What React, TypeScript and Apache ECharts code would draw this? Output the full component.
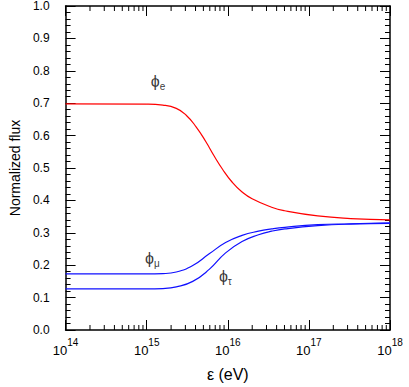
import React, { useEffect, useRef } from "react";
import * as echarts from "echarts";

// log10 of energy (eV) and normalized flux values
const logE_e = [14, 15, 15.2, 15.365, 15.487, 15.609, 15.73, 15.832, 15.933, 16.055, 16.176, 16.3, 16.54, 16.7, 17.109, 17.514, 18];
const phiE = [0.698, 0.697, 0.694, 0.684, 0.663, 0.627, 0.581, 0.537, 0.497, 0.456, 0.426, 0.405, 0.379, 0.368, 0.352, 0.344, 0.340];

const logE_mt = [14, 15, 15.2, 15.365, 15.568, 15.771, 15.973, 16.176, 16.379, 16.541, 16.703, 17.109, 17.514, 18];
const phiMu = [0.173, 0.173, 0.174, 0.179, 0.199, 0.235, 0.270, 0.292, 0.305, 0.312, 0.317, 0.325, 0.328, 0.331];
const phiTau = [0.127, 0.127, 0.128, 0.133, 0.150, 0.187, 0.238, 0.273, 0.294, 0.305, 0.312, 0.322, 0.327, 0.329];

// curve annotations
const labelSub = ["e", "μ", "τ"];
const labelLogE = [15.14, 15.07, 15.97];
const labelY = [0.763, 0.219, 0.162];

// axis ticks
const decades = [14, 15, 16, 17];
const minorMult = [2, 3, 4, 5, 6, 7, 8, 9];

const FONT = "'Liberation Sans', Arial, sans-serif";

export default function App() {
  const ref = useRef<HTMLDivElement>(null);
  useEffect(() => {
    if (!ref.current) return;
    const chart = echarts.init(ref.current, undefined, { renderer: "svg" });
    const toPts = (xs: number[], ys: number[]) => xs.map((x, i) => [Math.pow(10, x), ys[i]]);
    const minorData: number[][] = [];
    decades.forEach((d) => minorMult.forEach((m) => minorData.push([m * Math.pow(10, d), 0])));

    const xBase: any = {
      type: "log",
      logBase: 10,
      min: 1e14,
      max: 1e18,
      axisLine: { show: true, onZero: false, lineStyle: { color: "#000", width: 1.5 } },
      axisTick: { show: true, inside: true, length: 10, lineStyle: { color: "#000", width: 1 } },
      splitLine: { show: false },
      minorTick: { show: false },
    };
    const yBase: any = {
      type: "value",
      min: 0,
      max: 1,
      interval: 0.1,
      axisLine: { show: true, onZero: false, lineStyle: { color: "#000", width: 1.5 } },
      axisTick: { show: true, inside: true, length: 10, lineStyle: { color: "#000", width: 1 } },
      minorTick: { show: true, splitNumber: 5, length: 5, lineStyle: { color: "#000", width: 1 } },
      splitLine: { show: false },
      minorSplitLine: { show: false },
    };

    const lineSeries = (xs: number[], ys: number[], color: string) => ({
      type: "line",
      data: toPts(xs, ys),
      showSymbol: false,
      smooth: 0.5,
      lineStyle: { color, width: 1.2 },
    });

    chart.setOption({
      animation: false,
      backgroundColor: "#fff",
      grid: { left: 61, right: 19, top: 5, bottom: 55 },
      xAxis: [
        {
          ...xBase,
          position: "bottom",
          name: "ε (eV)",
          nameLocation: "middle",
          nameGap: 36,
          nameTextStyle: { fontFamily: FONT, fontSize: 16, color: "#000" },
          axisLabel: {
            show: true,
            margin: 7,
            formatter: (v: number) => "{b|10}{s|" + Math.round(Math.log10(v)) + "}",
            rich: {
              b: { fontFamily: FONT, fontSize: 13, color: "#000", lineHeight: 20, verticalAlign: "bottom" },
              s: { fontFamily: FONT, fontSize: 10, color: "#000", lineHeight: 10, verticalAlign: "top" },
            },
          },
        },
        { ...xBase, position: "top", axisLabel: { show: false } },
      ],
      yAxis: [
        {
          ...yBase,
          position: "left",
          name: "Normalized flux",
          nameLocation: "middle",
          nameGap: 41,
          nameTextStyle: { fontFamily: FONT, fontSize: 14, color: "#000" },
          axisLabel: {
            show: true,
            margin: 16,
            fontFamily: FONT,
            fontSize: 12,
            color: "#000",
            formatter: (v: number) => v.toFixed(1),
          },
        },
        { ...yBase, position: "right", axisLabel: { show: false } },
      ],
      series: [
        lineSeries(logE_e, phiE, "#ff0000"),
        lineSeries(logE_mt, phiMu, "#1010ff"),
        lineSeries(logE_mt, phiTau, "#1010ff"),
        {
          type: "scatter",
          symbolSize: 0,
          data: labelSub.map((s, i) => [Math.pow(10, labelLogE[i]), labelY[i]]),
          label: {
            show: true,
            position: "inside",
            formatter: (p: any) => "{p|ϕ}{s|" + labelSub[p.dataIndex] + "}",
            rich: {
              p: { fontFamily: FONT, fontSize: 16, color: "#000", lineHeight: 18, verticalAlign: "top" },
              s: { fontFamily: FONT, fontSize: 10, color: "#000", lineHeight: 10, verticalAlign: "bottom" },
            },
          },
        },
        {
          type: "custom",
          data: minorData,
          clip: false,
          silent: true,
          renderItem: (params: any, api: any) => {
            const e = api.value(0);
            const pb = api.coord([e, 0]);
            const pt = api.coord([e, 1]);
            return {
              type: "group",
              children: [
                { type: "line", shape: { x1: pb[0], y1: pb[1], x2: pb[0], y2: pb[1] - 5 }, style: { stroke: "#000", lineWidth: 1 } },
                { type: "line", shape: { x1: pt[0], y1: pt[1], x2: pt[0], y2: pt[1] + 5 }, style: { stroke: "#000", lineWidth: 1 } },
              ],
            };
          },
        },
      ],
    });
    return () => chart.dispose();
  }, []);
  return <div ref={ref} style={{ position: "fixed", left: 0, top: 0, width: 409, height: 387 }} />;
}
